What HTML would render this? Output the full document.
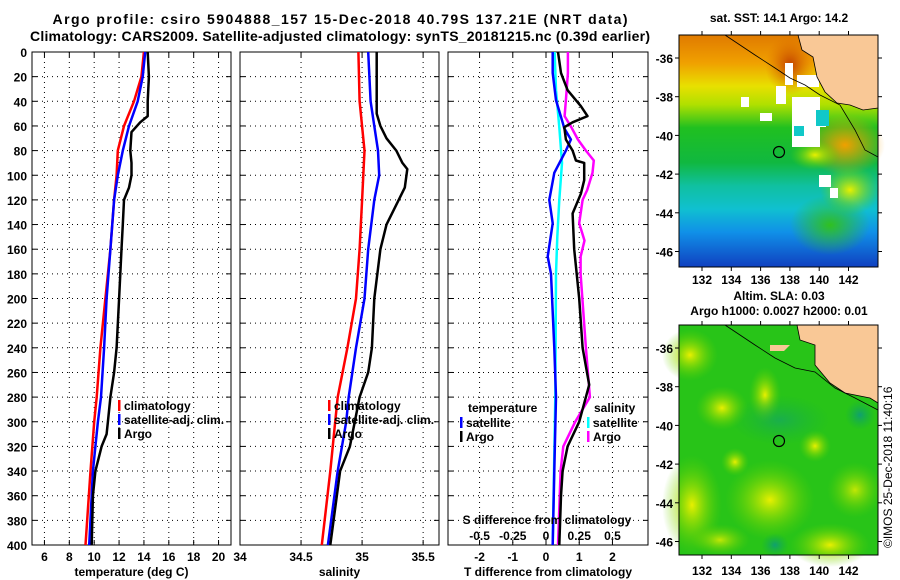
<!DOCTYPE html>
<html><head><meta charset="utf-8"><style>
html,body{margin:0;padding:0;background:#fff;}
svg{display:block;font-family:"Liberation Sans",sans-serif;font-weight:bold;}
</style></head><body>
<svg id="s" width="900" height="580" viewBox="0 0 900 580" xmlns="http://www.w3.org/2000/svg">
<defs>
<linearGradient id="sstg" x1="0" y1="0" x2="0" y2="1">
<stop offset="0" stop-color="#e07a00"/><stop offset="0.12" stop-color="#f0a000"/>
<stop offset="0.22" stop-color="#e8e000"/><stop offset="0.3" stop-color="#b0e000"/>
<stop offset="0.4" stop-color="#20c020"/><stop offset="0.55" stop-color="#10b840"/>
<stop offset="0.65" stop-color="#10c0a0"/><stop offset="0.75" stop-color="#10c0d0"/>
<stop offset="0.85" stop-color="#1090e8"/><stop offset="1" stop-color="#1040c0"/>
</linearGradient>
<radialGradient id="yb"><stop offset="0" stop-color="#e8f000"/><stop offset="1" stop-color="#60d000" stop-opacity="0"/></radialGradient>
<radialGradient id="tb"><stop offset="0" stop-color="#10a070"/><stop offset="1" stop-color="#10b040" stop-opacity="0"/></radialGradient>
<radialGradient id="ob"><stop offset="0" stop-color="#c04000"/><stop offset="1" stop-color="#e07000" stop-opacity="0"/></radialGradient>
<radialGradient id="orb"><stop offset="0" stop-color="#f0a000"/><stop offset="1" stop-color="#f0a000" stop-opacity="0"/></radialGradient>
<radialGradient id="gb"><stop offset="0" stop-color="#30c020"/><stop offset="1" stop-color="#30c020" stop-opacity="0"/></radialGradient>
</defs>
<g id="titles">
<text x="340" y="24" text-anchor="middle" font-size="14" textLength="575">Argo profile: csiro 5904888_157 15-Dec-2018 40.79S 137.21E (NRT data)</text>
<text x="340" y="41" text-anchor="middle" font-size="14" textLength="620">Climatology: CARS2009. Satellite-adjusted climatology: synTS_20181215.nc (0.39d earlier)</text>
</g>
<g id="p1"></g><g id="p2"></g><g id="p3"></g>
<g id="map1">
<text x="779" y="22" text-anchor="middle" font-size="12">sat. SST: 14.1 Argo: 14.2</text>
<rect x="679" y="35" width="199" height="232" fill="url(#sstg)"/>
<ellipse cx="790" cy="65" rx="25" ry="30" fill="url(#ob)"/>
<ellipse cx="845" cy="145" rx="40" ry="30" fill="url(#orb)"/>
<ellipse cx="850" cy="190" rx="30" ry="25" fill="url(#yb)"/>
<ellipse cx="815" cy="155" rx="25" ry="15" fill="url(#yb)"/>
<ellipse cx="830" cy="225" rx="40" ry="30" fill="url(#gb)"/>
<g fill="#fff">
<rect x="785" y="63" width="8" height="22"/><rect x="776" y="86" width="10" height="18"/>
<rect x="792" y="97" width="28" height="50"/><rect x="760" y="113" width="12" height="8"/>
<rect x="741" y="97" width="8" height="10"/><rect x="814" y="117" width="12" height="10"/>
<rect x="819" y="175" width="12" height="12"/><rect x="830" y="188" width="8" height="10"/>
<rect x="797" y="75" width="22" height="12"/>
</g>
<rect x="816" y="110" width="13" height="16" fill="#10c8c8"/><rect x="794" y="126" width="10" height="10" fill="#10c8c8"/>
<polygon points="798,35 878,35 878,108 863,110 850,105 837,103 825,92 817,77 813,57 802,50" fill="#f9c896" stroke="#000" stroke-width="0.8"/>
<polyline points="725,35 755,55 775,68 790,78 805,85 820,95 840,105 855,130 865,150 878,157" fill="none" stroke="#000" stroke-width="0.8"/>
<circle cx="779" cy="152" r="5.5" fill="none" stroke="#000" stroke-width="1.2"/>
<rect x="679" y="35" width="199" height="232" fill="none" stroke="#000"/>
</g>
<g id="map2">
<text x="779" y="300" text-anchor="middle" font-size="12">Altim. SLA: 0.03</text>
<text x="779" y="315" text-anchor="middle" font-size="12">Argo h1000: 0.0027 h2000: 0.01</text>
<rect x="679" y="325" width="199" height="230" fill="#28c418"/>
<ellipse cx="690" cy="355" rx="28" ry="26" fill="url(#yb)"/>
<ellipse cx="722" cy="408" rx="26" ry="22" fill="url(#yb)"/>
<ellipse cx="770" cy="500" rx="45" ry="40" fill="url(#yb)"/>
<ellipse cx="692" cy="505" rx="30" ry="50" fill="url(#yb)"/>
<ellipse cx="830" cy="545" rx="40" ry="22" fill="url(#yb)"/>
<ellipse cx="765" cy="395" rx="16" ry="28" fill="url(#yb)"/>
<ellipse cx="815" cy="446" rx="16" ry="16" fill="url(#yb)"/>
<ellipse cx="735" cy="462" rx="14" ry="14" fill="url(#yb)"/>
<ellipse cx="855" cy="490" rx="28" ry="28" fill="url(#yb)" opacity="0.8"/>
<ellipse cx="720" cy="540" rx="30" ry="16" fill="url(#yb)" opacity="0.8"/>
<ellipse cx="780" cy="420" rx="50" ry="25" fill="url(#tb)" opacity="0.6"/>
<ellipse cx="775" cy="545" rx="14" ry="12" fill="url(#tb)"/>
<ellipse cx="860" cy="415" rx="15" ry="15" fill="url(#tb)"/>
<polygon points="797,325 878,325 878,403 870,398 845,393 830,383 815,365 815,345 800,340" fill="#f9c896" stroke="#000" stroke-width="0.8"/>
<polygon points="770,345 790,345 784,351 770,351" fill="#f9c896"/>
<polyline points="725,325 755,345 775,358 795,368 815,372 835,388 855,398 878,410" fill="none" stroke="#000" stroke-width="0.8"/>
<circle cx="779" cy="441" r="5.5" fill="none" stroke="#000" stroke-width="1.2"/>
<rect x="679" y="325" width="199" height="230" fill="none" stroke="#000"/>
</g>
<text transform="translate(892,548) rotate(-90)" font-size="12" font-weight="normal">©IMOS 25-Dec-2018 11:40:16</text>
<g id="mapaxes"></g>
</svg>
<script>
// ---- data ----
const depthTicks=[0,20,40,60,80,100,120,140,160,180,200,220,240,260,280,300,320,340,360,380,400];
const tempTicks=[6,8,10,12,14,16,18,20];
const salTicks=[34,34.5,35,35.5];
const salTickLabels=["34","34.5","35","35.5"];
const tdTicks=[-2,-1,0,1,2];
const sdTicks=[-0.5,-0.25,0,0.25,0.5];
const sdTickLabels=["-0.5","-0.25","0","0.25","0.5"];
const tClimD=[0,20,40,60,80,100,120,160,200,240,280,300,340,400];
const tClim=[14.0,13.8,13.2,12.4,11.9,11.8,11.6,11.3,10.9,10.5,10.2,10.0,9.7,9.3];
const tSatD=[0,20,40,60,80,100,120,160,200,240,280,300,340,400];
const tSat=[14.1,13.9,13.5,12.8,12.3,11.9,11.6,11.3,11.0,10.8,10.55,10.3,9.9,9.6];
const tArgoD=[0,20,40,52,57,65,80,90,100,110,120,140,160,200,240,260,280,300,310,320,340,360,400];
const tArgo=[14.3,14.4,14.3,14.3,13.7,13.0,12.9,13.0,13.0,12.8,12.4,12.3,12.2,12.0,11.8,11.6,11.3,11.1,11.0,10.6,10.1,9.9,9.8];
const sClimD=[0,40,80,120,160,200,240,280,300,340,400];
const sClim=[34.97,34.98,35.02,35.0,34.98,34.95,34.88,34.8,34.78,34.74,34.67];
const sSatD=[0,40,60,80,100,120,160,200,240,280,300,340,400];
const sSat=[35.05,35.07,35.1,35.13,35.14,35.1,35.05,35.02,34.95,34.89,34.87,34.8,34.72];
const sArgoD=[0,50,60,70,80,90,95,110,120,140,160,200,240,260,280,300,320,340,400];
const sArgo=[35.12,35.12,35.15,35.2,35.28,35.33,35.37,35.35,35.3,35.2,35.15,35.1,35.08,35.05,34.98,34.94,34.9,34.82,34.74];
const dTSatD=[0,17,39,57,62,71,80,98,120,139,166,180,240,280,340,400];
const dTSat=[0.2,0.2,0.3,0.5,0.55,0.75,0.6,0.25,0.1,0.2,0.05,0.15,0.25,0.3,0.25,0.2];
const dSSatD=[0,31,61,90,120,150,180,280,400];
const dSSat=[0.065,0.075,0.1,0.12,0.1,0.085,0.075,0.07,0.05];
const dTArgoD=[0,17,31,44,52,57,61,71,80,88,90,104,115,131,160,200,240,270,300,320,340,360,400];
const dTArgo=[0.36,0.45,0.65,1.05,1.25,0.8,0.55,0.6,0.8,0.9,1.15,1.15,1.05,0.8,0.85,1.0,1.1,1.3,1.0,0.65,0.5,0.45,0.4];
const dSArgoD=[0,17,39,52,61,71,80,88,98,112,120,139,153,166,180,240,280,300,320,340,400];
const dSArgo=[0.165,0.165,0.15,0.14,0.19,0.24,0.3,0.36,0.35,0.31,0.275,0.25,0.29,0.26,0.26,0.3,0.33,0.22,0.13,0.11,0.09];
const mapLonTicks=[132,134,136,138,140,142];
const map1LatTicks=[-36,-38,-40,-42,-44,-46];
const map2LatTicks=[-36,-38,-40,-42,-44,-46];

const NS="http://www.w3.org/2000/svg";
function mk(tag,at,parent){const e=document.createElementNS(NS,tag);for(const k in at)e.setAttribute(k,at[k]);parent.appendChild(e);return e;}
const Y0=52,Y1=545;
const yS=d=>Y0+(Y1-Y0)*d/400;

function panel(gid,x0,x1,dom,xt,xtl,xlab,name,showY){
  const g=document.getElementById(gid);
  
  
  const xS=v=>x0+(x1-x0)*(v-dom[0])/(dom[1]-dom[0]);
  for(const d of depthTicks){ if(d>0&&d<400){const l=mk('line',{x1:x0,x2:x1,y1:yS(d),y2:yS(d),stroke:'#000','stroke-width':1,'stroke-dasharray':'1,4'},g);
      }
    mk('line',{x1:x0,x2:x0+5,y1:yS(d),y2:yS(d),stroke:'#000'},g);mk('line',{x1:x1-5,x2:x1,y1:yS(d),y2:yS(d),stroke:'#000'},g);
    if(showY){const t=mk('text',{x:x0-5,y:yS(d)+5,'text-anchor':'end','font-size':12},g);t.textContent=d;
      
      }
  }
  xt.forEach((v,i)=>{const x=xS(v);
    if(x>x0+1&&x<x1-1){const l=mk('line',{x1:x,x2:x,y1:Y0,y2:Y1,stroke:'#000','stroke-width':1,'stroke-dasharray':'1,4'},g);
      }
    mk('line',{x1:x,x2:x,y1:Y1-5,y2:Y1,stroke:'#000'},g);mk('line',{x1:x,x2:x,y1:Y0,y2:Y0+5,stroke:'#000'},g);
    const t=mk('text',{x:x,y:561,'text-anchor':'middle','font-size':12},g);t.textContent=xtl?xtl[i]:v;
    
    });
  mk('rect',{x:x0,y:Y0,width:x1-x0,height:Y1-Y0,fill:'none',stroke:'#000','stroke-width':1},g);
  const xl=mk('text',{x:(x0+x1)/2,y:576,'text-anchor':'middle','font-size':12},g);xl.textContent=xlab;
  
  
  return {g,xS};
}
function line(P,ds,vs,col,name,scale){
  const pts=ds.map((d,i)=>P.xS(vs[i]*(scale||1)).toFixed(1)+','+yS(d).toFixed(1)).join(' ');
  const p=mk('polyline',{points:pts,fill:'none',stroke:col,'stroke-width':2.5,'stroke-linejoin':'round'},P.g);
  
  
}
function legend(P,x,y,items){
  items.forEach((it,i)=>{const yy=y+i*14;
    mk('rect',{x:x,y:yy-9,width:2.5,height:11,fill:it[1]},P.g);
    const t=mk('text',{x:x+6,y:yy+1,'font-size':12},P.g);t.textContent=it[0];
    
    });
}
const P1=panel('p1',32,231,[5,21],tempTicks,null,'temperature (deg C)','temperature-panel',true);
line(P1,tClimD,tClim,'#f00','temp-climatology-line');
line(P1,tSatD,tSat,'#00f','temp-satellite-line');
line(P1,tArgoD,tArgo,'#000','temp-argo-line');
legend(P1,118,409,[['climatology','#f00'],['satellite-adj. clim.','#00f'],['Argo','#000']]);

const P2=panel('p2',240,439,[34,35.63],salTicks,salTickLabels,'salinity','salinity-panel',false);
line(P2,sClimD,sClim,'#f00','sal-climatology-line');
line(P2,sSatD,sSat,'#00f','sal-satellite-line');
line(P2,sArgoD,sArgo,'#000','sal-argo-line');
legend(P2,328,409,[['climatology','#f00'],['satellite-adj. clim.','#00f'],['Argo','#000']]);

const P3=panel('p3',448,648,[-2.95,3.07],tdTicks,null,'T difference from climatology','difference-panel',false);
line(P3,dSSatD,dSSat,'#0ff','sal-diff-satellite-line',4);
line(P3,dTSatD,dTSat,'#00f','temp-diff-satellite-line');
line(P3,dSArgoD,dSArgo,'#f0f','sal-diff-argo-line',4);
line(P3,dTArgoD,dTArgo,'#000','temp-diff-argo-line');
{const t=mk('text',{x:468,y:412,'font-size':12},P3.g);t.textContent='temperature';
 
 
 const u=mk('text',{x:594,y:412,'font-size':12},P3.g);u.textContent='salinity';
 
 }
legend(P3,460,426,[['satellite','#00f'],['Argo','#000']]);
legend(P3,587,426,[['satellite','#0ff'],['Argo','#f0f']]);
{const t=mk('text',{x:547,y:524,'text-anchor':'middle','font-size':12},P3.g);t.textContent='S difference from climatology';
 
 
 sdTicks.forEach((v,i)=>{const s=mk('text',{x:P3.xS(v*4),y:540,'text-anchor':'middle','font-size':12},P3.g);s.textContent=sdTickLabels[i];
  
  });}

// map axes
const ma=document.getElementById('mapaxes');
const lonX=v=>702+(v-132)*14.65;
function mapAxes(top,bot,lat0y,lats,labY){
  mapLonTicks.forEach(v=>{const x=lonX(v);mk('line',{x1:x,x2:x,y1:top-4,y2:top,stroke:'#000'},ma);mk('line',{x1:x,x2:x,y1:bot,y2:bot+4,stroke:'#000'},ma);
    const t=mk('text',{x:x,y:labY,'text-anchor':'middle','font-size':12},ma);t.textContent=v;
    
    });
  lats.forEach(v=>{const y=lat0y+(-36-v)*19.35;
    mk('line',{x1:675,x2:679,y1:y,y2:y,stroke:'#000'},ma);mk('line',{x1:878,x2:882,y1:y,y2:y,stroke:'#000'},ma);
    const t=mk('text',{x:673,y:y+5,'text-anchor':'end','font-size':12},ma);t.textContent=v;
    
    });
}
mapAxes(35,267,58,map1LatTicks,284);
mapAxes(325,555,348,map2LatTicks,575);
</script>
</body></html>
